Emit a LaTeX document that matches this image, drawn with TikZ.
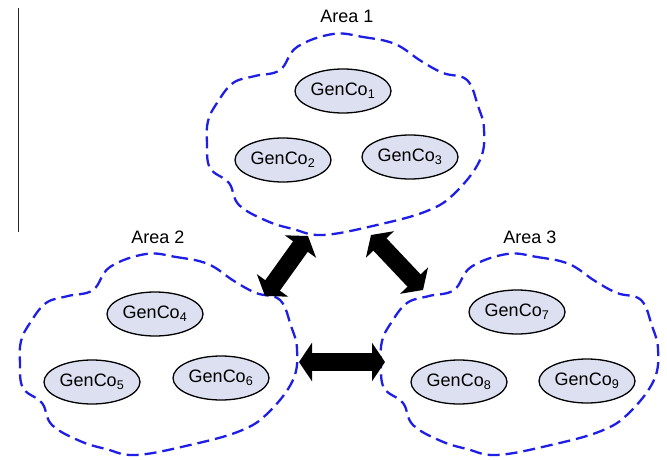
\documentclass[tikz,border=0pt]{standalone}
\usepackage{fontspec}
\setmainfont{Liberation Sans}
\usetikzlibrary{shapes.geometric,arrows.meta}
\definecolor{areablue}{RGB}{30,30,228}
\definecolor{genfill}{RGB}{220,224,240}
\tikzset{
  gen/.style={ellipse, draw=black, line width=1.3pt, fill=genfill,
    minimum width=96pt, minimum height=44pt, inner sep=0pt,
    font=\fontsize{18}{21}\selectfont},
  arealabel/.style={font=\fontsize{18}{21}\selectfont, inner sep=0pt},
  areaborder/.style={draw=areablue, line width=2.3pt, dash pattern=on 12pt off 6pt},
  link/.style={line width=18pt,
    {Triangle[length=13pt,width=38pt]}-{Triangle[length=13pt,width=38pt]}},
  areacloud/.pic={
    \draw[areaborder] plot[smooth cycle, tension=0.65] coordinates {
      (128,1) (158,4) (190,11) (216,28) (238,40) (262,47) (273,73)
      (279,96) (275,127) (250,160) (222,178) (172,192) (118,202)
      (88,196) (62,188) (34,172) (24,150) (5,135) (2,110) (3,88)
      (12,70) (28,50) (50,43) (75,37) (92,14)};
  }
}
\begin{document}
\begin{tikzpicture}[x=1pt,y=-1pt]
  \useasboundingbox (0,0) rectangle (667,460);

  % left rule
  \draw[line width=1pt, black!85] (18,8) -- (18,232);

  % area outlines
  \pic at (205,33) {areacloud};
  \pic at (18,253) {areacloud};
  \pic at (379,253) {areacloud};

  % area titles
  \node[arealabel] (area1) at (347,16) {Area 1};
  \node[arealabel] (area2) at (158,237) {Area 2};
  \node[arealabel] (area3) at (530,237) {Area 3};

  % generating companies
  \node[gen] (g1) at (343,91)  {GenCo\textsubscript{1}};
  \node[gen] (g2) at (283,160) {GenCo\textsubscript{2}};
  \node[gen] (g3) at (410,157) {GenCo\textsubscript{3}};
  \node[gen] (g4) at (155,314) {GenCo\textsubscript{4}};
  \node[gen] (g5) at (92,382)  {GenCo\textsubscript{5}};
  \node[gen] (g6) at (221,378) {GenCo\textsubscript{6}};
  \node[gen] (g7) at (517,312) {GenCo\textsubscript{7}};
  \node[gen] (g8) at (459,382) {GenCo\textsubscript{8}};
  \node[gen] (g9) at (587,381) {GenCo\textsubscript{9}};

  % tie-line end points
  \coordinate (t12a) at (265,296);
  \coordinate (t12b) at (308,236);
  \coordinate (t13a) at (371,235);
  \coordinate (t13b) at (423,290);
  \coordinate (t23a) at (299,362);
  \coordinate (t23b) at (385,362);

  % tie-lines between areas
  \draw[link] (t12a) -- (t12b);
  \draw[link] (t13a) -- (t13b);
  \draw[link] (t23a) -- (t23b);
\end{tikzpicture}
\end{document}
